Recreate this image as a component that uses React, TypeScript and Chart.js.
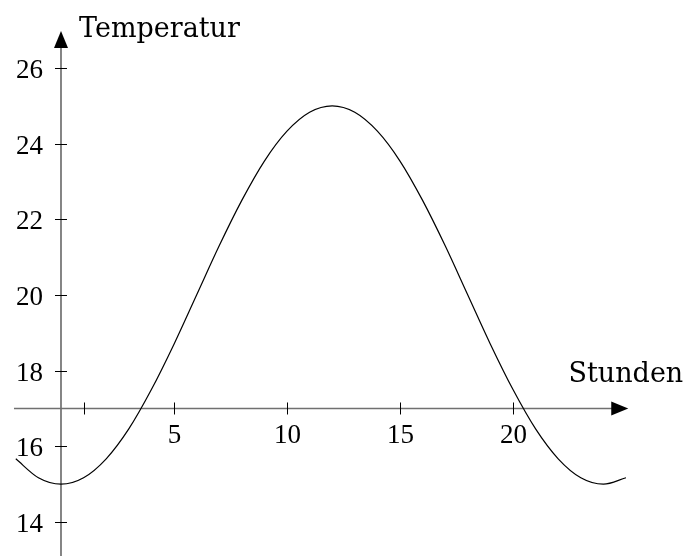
import { useEffect, useRef } from "react";
import { Chart, registerables } from "chart.js";
Chart.register(...registerables);

// Data
const hours = [-2, -1, 0, 1, 2, 3, 4, 5, 6, 7, 8, 9, 10, 11, 12, 13, 14, 15, 16, 17, 18, 19, 20, 21, 22, 23, 24, 25];
const temps = [15.67, 15.17, 15.0, 15.17, 15.67, 16.46, 17.5, 18.7, 20.0, 21.3, 22.5, 23.54, 24.33, 24.83, 25.0, 24.83, 24.33, 23.54, 22.5, 21.3, 20.0, 18.7, 17.5, 16.46, 15.67, 15.17, 15.0, 15.17];

const xTicks = [1, 5, 10, 15, 20];
const xTickLabels = ["", "5", "10", "15", "20"];
const yTicks = [14, 16, 18, 20, 22, 24, 26];
const yTickLabels = ["14", "16", "18", "20", "22", "24", "26"];
const xTitle = "Stunden";
const yTitle = "Temperatur";
const xAxisCrossY = 17;
const yAxisCrossX = 0;
const xAxisExtent = [-2.08, 25.1];
const yAxisExtent = [13.0, 26.98];

const TITLE_FONT = "DejaVu Serif";
const TICK_FONT = "Liberation Serif";

const axesPlugin = {
  id: "customAxes",
  beforeDatasetsDraw(chart: any) {
    const { ctx, scales } = chart;
    const xs = scales.x;
    const ys = scales.y;
    const ax = xs.getPixelForValue(yAxisCrossX);
    const ay = ys.getPixelForValue(xAxisCrossY);
    ctx.save();
    ctx.strokeStyle = "#707070";
    ctx.lineWidth = 1.7;
    // x axis
    const xl = xs.getPixelForValue(xAxisExtent[0]);
    const xr = xs.getPixelForValue(xAxisExtent[1]);
    ctx.beginPath();
    ctx.moveTo(xl, ay);
    ctx.lineTo(xr - 10, ay);
    ctx.stroke();
    // y axis
    const yb = ys.getPixelForValue(yAxisExtent[0]);
    const yt = ys.getPixelForValue(yAxisExtent[1]);
    ctx.beginPath();
    ctx.moveTo(ax, yb);
    ctx.lineTo(ax, yt + 10);
    ctx.stroke();
    // arrows
    ctx.fillStyle = "#000";
    ctx.beginPath();
    ctx.moveTo(xr, ay);
    ctx.lineTo(xr - 17, ay - 7);
    ctx.lineTo(xr - 17, ay + 7);
    ctx.closePath();
    ctx.fill();
    ctx.beginPath();
    ctx.moveTo(ax, yt);
    ctx.lineTo(ax - 7, yt + 17);
    ctx.lineTo(ax + 7, yt + 17);
    ctx.closePath();
    ctx.fill();
    // ticks
    ctx.strokeStyle = "#000";
    ctx.lineWidth = 1;
    ctx.fillStyle = "#000";
    ctx.font = `27px "${TICK_FONT}"`;
    ctx.textAlign = "center";
    ctx.textBaseline = "alphabetic";
    xTicks.forEach((v, i) => {
      const px = Math.round(xs.getPixelForValue(v)) + 0.5;
      ctx.beginPath();
      ctx.moveTo(px, ay - 6);
      ctx.lineTo(px, ay + 6);
      ctx.stroke();
      if (xTickLabels[i]) ctx.fillText(xTickLabels[i], px, ay + 35);
    });
    ctx.textAlign = "right";
    yTicks.forEach((v, i) => {
      const py = Math.round(ys.getPixelForValue(v)) + 0.5;
      ctx.beginPath();
      ctx.moveTo(ax - 6, py);
      ctx.lineTo(ax + 6, py);
      ctx.stroke();
      ctx.fillText(yTickLabels[i], ax - 18, py + 9.5);
    });
    // titles
    ctx.font = `27px "${TITLE_FONT}"`;
    ctx.textAlign = "left";
    ctx.fillText(yTitle, ax + 18, yt + 6);
    ctx.textAlign = "right";
    ctx.fillText(xTitle, xr + 55, ay - 26);
    ctx.restore();
  },
};

export default function App() {
  const ref = useRef<HTMLCanvasElement>(null);
  useEffect(() => {
    if (!ref.current) return;
    const chart = new Chart(ref.current, {
      type: "line",
      data: {
        datasets: [
          {
            data: hours.map((h, i) => ({ x: h, y: temps[i] })),
            borderColor: "#000",
            borderWidth: 1.2,
            pointRadius: 0,
            cubicInterpolationMode: "monotone",
            fill: false,
          },
        ],
      },
      options: {
        animation: false,
        responsive: false,
        maintainAspectRatio: false,
        layout: { padding: 0 },
        plugins: { legend: { display: false }, tooltip: { enabled: false } },
        scales: {
          x: { type: "linear", min: -2.699, max: 27.655, display: false },
          y: { type: "linear", min: 13.101, max: 27.797, display: false },
        },
      },
      plugins: [axesPlugin],
    } as any);
    return () => chart.destroy();
  }, []);
  return (
    <div style={{ position: "fixed", left: 0, top: 0, width: 686, height: 556, background: "#fff" }}>
      <canvas ref={ref} width={686} height={556} style={{ width: 686, height: 556, display: "block" }} />
    </div>
  );
}
